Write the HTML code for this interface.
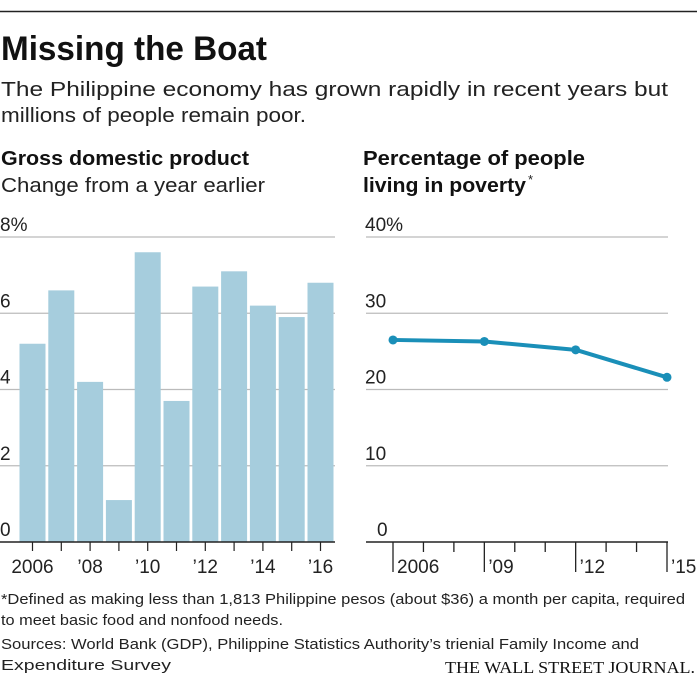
<!DOCTYPE html>
<html><head><meta charset="utf-8"><style>
html,body{margin:0;padding:0;background:#fff;}
svg{display:block;font-family:"Liberation Sans",sans-serif;}
</style></head><body>
<svg id="c" width="700" height="685" viewBox="0 0 700 685">
<line x1="0" y1="11.5" x2="697" y2="11.5" stroke="#222" stroke-width="1.5"/>
<text x="1" y="60" font-size="34" font-weight="bold" fill="#111" textLength="266" lengthAdjust="spacingAndGlyphs">Missing the Boat</text>
<text x="1" y="96" font-size="20" fill="#222" textLength="667" lengthAdjust="spacingAndGlyphs">The Philippine economy has grown rapidly in recent years but</text>
<text x="1" y="122" font-size="20" fill="#222" textLength="305" lengthAdjust="spacingAndGlyphs">millions of people remain poor.</text>
<text x="1" y="165" font-size="20" font-weight="bold" fill="#111" textLength="248" lengthAdjust="spacingAndGlyphs">Gross domestic product</text>
<text x="1" y="192" font-size="20" fill="#222" textLength="264" lengthAdjust="spacingAndGlyphs">Change from a year earlier</text>
<text x="363" y="165" font-size="20" font-weight="bold" fill="#111" textLength="222" lengthAdjust="spacingAndGlyphs">Percentage of people</text>
<text x="363" y="192" font-size="20" font-weight="bold" fill="#111" textLength="163" lengthAdjust="spacingAndGlyphs">living in poverty</text>
<text x="528" y="184" font-size="13" fill="#222">*</text>
<g id="left"></g>
<g id="right"></g>
<text x="1" y="604" font-size="15" fill="#222" textLength="684" lengthAdjust="spacingAndGlyphs">*Defined as making less than 1,813 Philippine pesos (about $36) a month per capita, required</text>
<text x="1" y="625" font-size="15" fill="#222" textLength="282" lengthAdjust="spacingAndGlyphs">to meet basic food and nonfood needs.</text>
<text x="1" y="649" font-size="15" fill="#222" textLength="638" lengthAdjust="spacingAndGlyphs">Sources: World Bank (GDP), Philippine Statistics Authority’s trienial Family Income and</text>
<text x="1" y="670" font-size="15" fill="#222" textLength="170" lengthAdjust="spacingAndGlyphs">Expenditure Survey</text>
<text x="695" y="673" font-size="17" text-anchor="end" fill="#111" font-family="Liberation Serif,serif" textLength="250" lengthAdjust="spacingAndGlyphs">THE WALL STREET JOURNAL.</text>
</svg>
<script>
const gdpYears=[2006,2007,2008,2009,2010,2011,2012,2013,2014,2015,2016];
const gdpValues=[5.2,6.6,4.2,1.1,7.6,3.7,6.7,7.1,6.2,5.9,6.8];
const gdpTicks=[0,2,4,6,8];
const gdpTickLabels=["0","2","4","6","8%"];
const gdpYearLabels={2006:"2006",2008:"’08",2010:"’10",2012:"’12",2014:"’14",2016:"’16"};
const povYears=[2006,2009,2012,2015];
const povValues=[26.5,26.3,25.2,21.6];
const povTicks=[0,10,20,30,40];
const povTickLabels=["0","10","20","30","40%"];
const povYearLabels={2006:"2006",2009:"’09",2012:"’12",2015:"’15"};
const NS="http://www.w3.org/2000/svg";
function mk(tag,attrs,parent){const e=document.createElementNS(NS,tag);for(const k in attrs)e.setAttribute(k,attrs[k]);parent.appendChild(e);return e;}
const Y0=542,Y1=237;
const L=document.getElementById('left');
const ly=v=>Y0-(v/8)*(Y0-Y1);
const step=28.8,x0=19.5,bw=26;
const lx=yr=>x0+(yr-2006)*step;
gdpTicks.forEach((t,i)=>{
  if(t>0){const g=mk('line',{x1:0,x2:335,y1:ly(t),y2:ly(t),stroke:'#bbb','stroke-width':1.2},L);
  }
  const tx=mk('text',{x:0,y:ly(t)-6,'font-size':19,fill:'#222'},L);tx.textContent=gdpTickLabels[i];
  
});
gdpYears.forEach((yr,i)=>{
  const r=mk('rect',{x:lx(yr),y:ly(gdpValues[i]),width:bw,height:Y0-ly(gdpValues[i]),fill:'#a6cddd'},L);
  
  const c=lx(yr)+bw/2;
  const tk=mk('line',{x1:c,x2:c,y1:Y0,y2:Y0+9,stroke:'#222','stroke-width':1.2},L);
  
  if(gdpYearLabels[yr]){const t=mk('text',{x:c,y:Y0+31,'font-size':19,fill:'#222','text-anchor':'middle'},L);t.textContent=gdpYearLabels[yr];
  }
});
const la=mk('line',{x1:0,x2:335,y1:Y0,y2:Y0,stroke:'#222','stroke-width':1.5},L);

const R=document.getElementById('right');
const ry=v=>Y0-(v/40)*(Y0-Y1);
const rx=yr=>393+(yr-2006)*(667-393)/9;
povTicks.forEach((t,i)=>{
  if(t>0){const g=mk('line',{x1:366,x2:668,y1:ry(t),y2:ry(t),stroke:'#bbb','stroke-width':1.2},R);
  }
  const tx=mk('text',{x:t===0?377:365,y:ry(t)-6,'font-size':19,fill:'#222'},R);tx.textContent=povTickLabels[i];
  
});
for(let yr=2006;yr<=2015;yr++){
  const big=!!povYearLabels[yr];
  const tk=mk('line',{x1:rx(yr),x2:rx(yr),y1:Y0,y2:big?Y0+30:Y0+10,stroke:'#222','stroke-width':1.3},R);
  
  if(big){const t=mk('text',{x:rx(yr)+4,y:Y0+31,'font-size':19,fill:'#222'},R);t.textContent=povYearLabels[yr];
  }
}
const ra=mk('line',{x1:366,x2:668,y1:Y0,y2:Y0,stroke:'#222','stroke-width':1.5},R);

const pl=mk('polyline',{points:povYears.map((y,i)=>rx(y)+','+ry(povValues[i])).join(' '),fill:'none',stroke:'#1a8fb8','stroke-width':4,'stroke-linejoin':'round'},R);

povYears.forEach((y,i)=>{
  const c=mk('circle',{cx:rx(y),cy:ry(povValues[i]),r:4.5,fill:'#1a8fb8'},R);
  
});
</script>
</body></html>
